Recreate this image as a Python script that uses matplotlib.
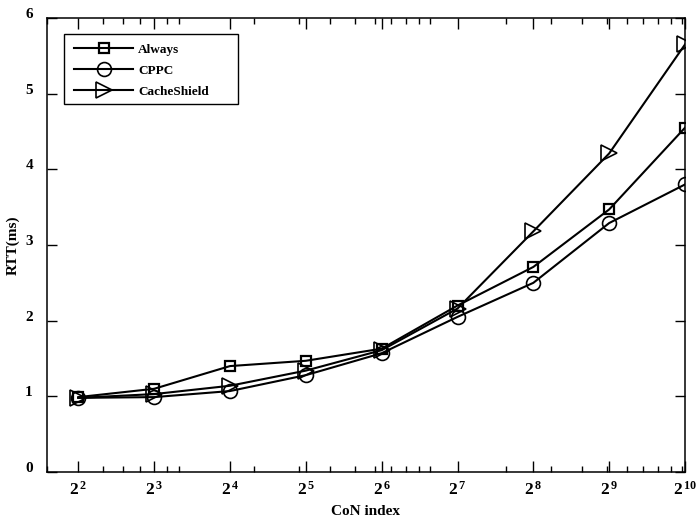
import matplotlib
matplotlib.use("Agg")
import matplotlib.pyplot as plt
import matplotlib.transforms as mtransforms
from matplotlib.patches import Rectangle
from matplotlib.ticker import FixedLocator, LogLocator, NullFormatter, FixedFormatter

plt.rcParams['font.family'] = ['Liberation Serif', 'DejaVu Serif']
plt.rcParams['font.weight'] = 'bold'
plt.rcParams['mathtext.fontset'] = 'custom'
plt.rcParams['mathtext.rm'] = 'Liberation Serif:bold'
plt.rcParams['mathtext.bf'] = 'Liberation Serif:bold'
plt.rcParams['mathtext.it'] = 'Liberation Serif:bold'

exponents = [2, 3, 4, 5, 6, 7, 8, 9, 10]
con_index = [2 ** e for e in exponents]
always = [0.99, 1.10, 1.40, 1.47, 1.63, 2.20, 2.71, 3.47, 4.55]
cppc = [0.98, 0.99, 1.07, 1.28, 1.57, 2.05, 2.50, 3.29, 3.80]
cacheshield = [0.98, 1.03, 1.14, 1.34, 1.61, 2.16, 3.18, 4.21, 5.65]
tick_labels = [r'$\mathrm{2}^{\,\mathrm{%d}}$' % e for e in exponents]

fig = plt.figure(figsize=(6.99, 5.28), dpi=100)
ax = fig.add_axes([0.067, 0.106, 0.913, 0.860])

ax.plot(con_index, always, color='black', lw=1.5, marker='s', ms=7, mfc='none', mec='black', mew=1.6, label='Always')
ax.plot(con_index, cppc, color='black', lw=1.5, marker='o', ms=10, mfc='none', mec='black', mew=1.2, label='CPPC')
ax.plot(con_index, cacheshield, color='black', lw=1.5, marker='>', ms=12, mfc='none', mec='black', mew=1.2, label='CacheShield')

ax.set_xscale('log')
ax.set_xlim(3, 1024)
ax.set_ylim(0, 6)
ax.xaxis.set_major_locator(FixedLocator(con_index))
ax.xaxis.set_major_formatter(FixedFormatter(tick_labels))
ax.xaxis.set_minor_locator(LogLocator(base=10, subs=range(1, 10), numticks=20))
ax.xaxis.set_minor_formatter(NullFormatter())
ax.set_yticks([0, 1, 2, 3, 4, 5, 6])

ax.tick_params(axis='x', which='major', direction='in', length=8, width=1, top=True, pad=6, labelsize=12.5)
ax.tick_params(axis='x', which='minor', direction='in', length=4, width=1, top=True)
ax.tick_params(axis='y', which='major', direction='in', length=7, width=1, right=True, pad=10, labelsize=11)
up = mtransforms.ScaledTranslation(0, 0.05, fig.dpi_scale_trans)
for lbl in ax.get_yticklabels():
    lbl.set_fontweight('bold')
    lbl.set_transform(lbl.get_transform() + up)
for s in ax.spines.values():
    s.set_linewidth(1.1)

ax.set_xlabel('CoN index', fontsize=11, fontweight='bold', labelpad=5)
ax.set_ylabel('RTT(ms)', fontsize=11, fontweight='bold', labelpad=4)

leg = ax.legend(loc='upper left', bbox_to_anchor=(0.027, 0.965), borderaxespad=0, frameon=False,
                handlelength=4.5, handletextpad=0.35, borderpad=0.75, labelspacing=0.65,
                prop={'weight': 'bold', 'size': 9.5})
ax.add_patch(Rectangle((0.0266, 0.811), 0.2725, 0.154, transform=ax.transAxes,
                       fill=False, edgecolor='black', lw=1.0, zorder=5))

fig.savefig('out.png', dpi=100)
